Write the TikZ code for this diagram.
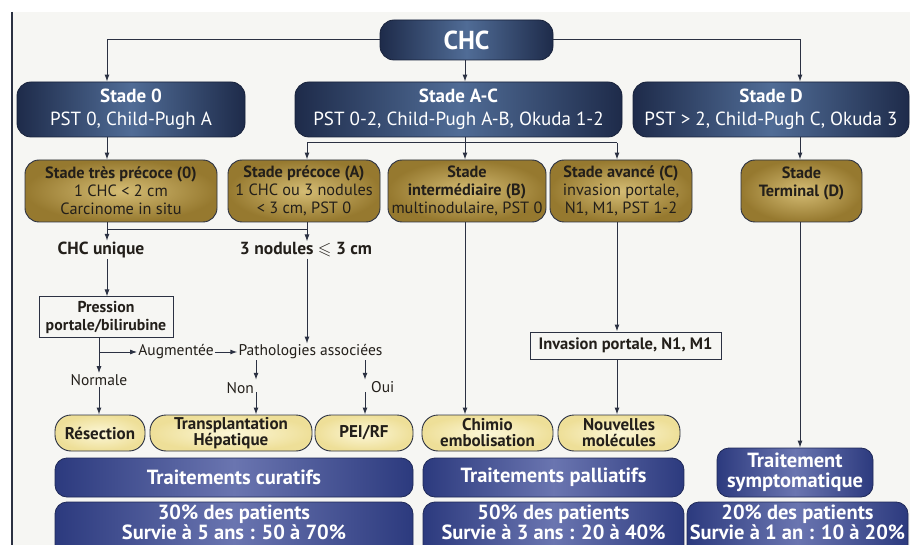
\documentclass[tikz,border=0pt]{standalone}
\usepackage{fontspec}
\usepackage{amssymb}
\setmainfont{PT Sans}
\usetikzlibrary{arrows.meta,calc}
\definecolor{bgc}{HTML}{F6F6F3}
\definecolor{lc}{HTML}{2B3142}
\definecolor{navyE}{HTML}{1E2B4A}
\definecolor{navyM}{HTML}{506C96}
\definecolor{goldI}{HTML}{D4BC74}
\definecolor{goldO}{HTML}{96792F}
\definecolor{creamI}{HTML}{FCF7D8}
\definecolor{creamO}{HTML}{EEDF98}
\definecolor{blueE}{HTML}{2C3A7E}
\definecolor{blueM}{HTML}{6A75B0}
\definecolor{txt}{HTML}{231F1A}
\tikzset{
  conn/.style={draw=lc, line width=1pt},
  arr/.style={conn, -{Latex[length=7pt,width=5pt]}},
  navy/.style={draw=navyE!80!black, line width=0.8pt, rounded corners=14pt, left color=navyE, right color=navyE, middle color=navyM, text=white, align=center, inner sep=0pt, font=\fontsize{19}{23}\selectfont},
  goldbox/.style={draw=lc, line width=0.9pt, rounded corners=14pt, shading=radial, inner color=goldI, outer color=goldO, text=txt, align=center, inner sep=0pt, font=\fontsize{16.3}{18}\selectfont},
  cream/.style={draw=lc, line width=0.9pt, rounded corners=16pt, shading=radial, inner color=creamI, outer color=creamO, text=txt, align=center, inner sep=0pt, minimum height=36pt, font=\fontsize{17}{16}\selectfont\bfseries},
  bluebox/.style={draw=blueE!70!black, line width=0.8pt, rounded corners=12pt, left color=blueE, right color=blueE, middle color=blueM, text=white, align=center, inner sep=0pt, font=\fontsize{20.5}{20}\selectfont\bfseries},
  bluetext/.style={text=white, align=center, inner sep=0pt, anchor=north, yshift=-3pt, font=\fontsize{20.5}{18}\selectfont\bfseries},
  plainbox/.style={draw=lc, line width=1pt, fill=bgc, align=center, inner sep=0pt, text=txt, font=\fontsize{15.8}{18}\selectfont\bfseries},
  lbl/.style={inner sep=1pt, text=txt, font=\fontsize{15.5}{17}\selectfont},
  blbl/.style={inner sep=1pt, text=txt, font=\fontsize{17.5}{19}\selectfont\bfseries},
  gap/.style={inner sep=0pt, minimum width=0pt, minimum height=12pt},
}
\begin{document}
\begin{tikzpicture}[x=1pt,y=-1pt]
\clip (0,0) rectangle (910,545);
\fill[white] (0,0) rectangle (910,545);
\fill[bgc] (12,12) rectangle (910,545);
\draw[lc, line width=1.5pt] (12,12) -- (12,545);

% lanes
\coordinate (L0) at (107,0);
\coordinate (LA) at (307,0);
\coordinate (LB) at (465,0);
\coordinate (LC) at (617,0);
\coordinate (LD) at (800,0);
\coordinate (LP) at (99,0);
\coordinate (hAC) at (0,143);
\coordinate (hU) at (0,230);

% top
\node[navy, minimum width=173pt, minimum height=40pt, font=\fontsize{26}{28}\selectfont\bfseries] (chc) at (466.5,40) {CHC};
\node[navy, minimum width=228pt, minimum height=55pt] (s0) at (131,109.5) {\textbf{Stade 0}\\PST 0, Child-Pugh A};
\node[navy, minimum width=327pt, minimum height=55pt] (sAC) at (458.5,109.5) {\textbf{Stade A-C}\\PST 0-2, Child-Pugh A-B, Okuda 1-2};
\node[navy, minimum width=276pt, minimum height=55pt] (sD) at (771,109.5) {\textbf{Stade D}\\PST > 2, Child-Pugh C, Okuda 3};

% gold row
\node[goldbox, minimum width=192pt, minimum height=62pt] (g0) at (121,191) {\textbf{Stade très précoce (0)}\\1 CHC < 2 cm\\Carcinome in situ};
\node[goldbox, minimum width=152pt, minimum height=62pt] (gA) at (304,191) {\textbf{Stade précoce (A)}\\1 CHC ou 3 nodules\\< 3 cm, PST 0};
\node[goldbox, minimum width=158pt, minimum height=62pt] (gB) at (467,191) {\textbf{Stade}\\\textbf{intermédiaire (B)}\\multinodulaire, PST 0};
\node[goldbox, minimum width=142pt, minimum height=62pt] (gC) at (621,191) {\textbf{Stade avancé (C)}\\invasion portale,\\N1, M1, PST 1-2};
\node[goldbox, minimum width=121pt, minimum height=62pt] (gD) at (801.5,191) {\textbf{Stade}\\\textbf{Terminal (D)}\\\mbox{}};

% labels
\node[blbl] (uniq) at (101,250) {CHC unique};
\node[blbl] (nod) at (306,250) {3 nodules $\leqslant$ 3 cm};
\node[plainbox, minimum width=134pt, minimum height=40pt] (press) at (106,317) {Pression\\portale/bilirubine};
\node[lbl] (aug) at (176,352) {Augmentée};
\node[lbl] (path) at (310.5,352) {Pathologies associées};
\node[lbl] (norm) at (99,380) {Normale};
\node[gap] (nongap) at (256,386) {};
\node[gap] (ouigap) at (365,386) {};
\node[lbl, anchor=east] (non) at (255,388) {Non};
\node[lbl, anchor=west] (oui) at (370,387) {Oui};
\node[plainbox, minimum width=191pt, minimum height=27pt, font=\fontsize{16.5}{18}\selectfont\bfseries] (inv) at (625.5,345.5) {Invasion portale, N1, M1};

% treatments
\node[cream, minimum width=90pt] (res) at (100,433) {Résection};
\node[cream, minimum width=162pt] (trans) at (231,433) {Transplantation\\Hépatique};
\node[cream, minimum width=98pt] (pei) at (364,433) {PEI/RF};
\node[cream, minimum width=131pt] (chim) at (487.5,433) {Chimio\\embolisation};
\node[cream, minimum width=122pt] (nouv) at (619,433) {Nouvelles\\molécules};

% bottom
\node[bluebox, minimum width=156pt, minimum height=49pt] (symp) at (795,472.5) {Traitement\\symptomatique};
\node[bluebox, minimum width=358pt, minimum height=39pt] (cur) at (234,477.5) {Traitements curatifs};
\node[bluebox, minimum width=261pt, minimum height=39pt] (pal) at (553.5,477.5) {Traitements palliatifs};
\node[bluebox, minimum width=358pt, minimum height=60pt] (st1) at (234,532) {};
\node[bluebox, minimum width=261pt, minimum height=60pt] (st2) at (553.5,532) {};
\node[bluebox, minimum width=221pt, minimum height=60pt] (st3) at (797.5,532) {};
\node[bluetext] (st1t) at (st1.north) {30\% des patients\\Survie à 5 ans : 50 à 70\%};
\node[bluetext] (st2t) at (st2.north) {50\% des patients\\Survie à 3 ans : 20 à 40\%};
\node[bluetext] (st3t) at (st3.north) {20\% des patients\\Survie à 1 an : 10 à 20\%};

% connectors
\draw[arr] (chc.west) -| (s0.north -| L0);
\draw[arr] (chc.east) -| (sD.north -| LD);
\draw[arr] (chc.south -| LB) -- (sAC.north -| LB);
\draw[arr] (s0.south -| L0) -- (g0.north -| L0);
\draw[conn] (hAC -| LA) -- (hAC -| LC);
\draw[arr] (sAC.south -| LB) -- (gB.north -| LB);
\draw[arr] (hAC -| LA) -- (gA.north -| LA);
\draw[arr] (hAC -| LC) -- (gC.north -| LC);
\draw[arr] (sD.south -| LD) -- (gD.north -| LD);

\draw[conn] (hU -| L0) -- (hU -| LA);
\draw[arr] (g0.south -| L0) -- (uniq.north -| L0);
\draw[arr] (gA.south -| LA) -- (nod.north -| LA);
\draw[arr] (uniq.south -| L0) -- (press.north -| L0);
\draw[arr] (nod.south -| LA) -- (path.north -| LA);
\draw[arr] (press.south -| LP) -- (norm.north -| LP);
\draw[arr] (LP |- aug) -- (aug.west);
\draw[arr] (aug.east) -- (path.west);
\draw[arr] (norm.south -| LP) -- (res.north -| LP);
\draw[arr] (path.south -| nongap) -- (nongap.north);
\draw[arr] (nongap.south) -- (trans.north -| nongap);
\draw[arr] (path.south -| ouigap) -- (ouigap.north);
\draw[arr] (ouigap.south) -- (pei.north -| ouigap);

\draw[arr] (gB.south -| LB) -- (chim.north -| LB);
\draw[arr] (gC.south -| LC) -- (inv.north -| LC);
\draw[arr] (inv.south -| LC) -- (nouv.north -| LC);
\draw[arr] (gD.south -| LD) -- (symp.north -| LD);
\end{tikzpicture}
\end{document}
